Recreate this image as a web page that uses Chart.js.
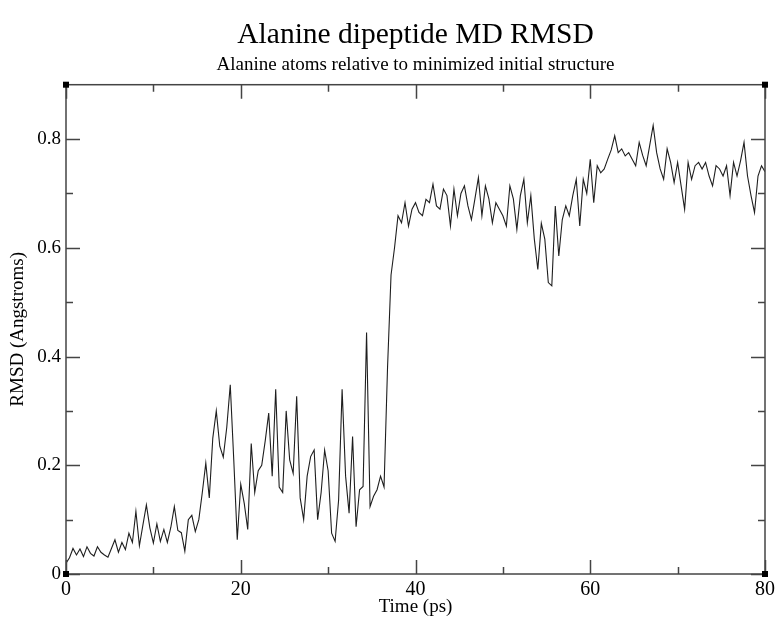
<!DOCTYPE html>
<html>
<head>
<meta charset="utf-8">
<script src="https://cdn.jsdelivr.net/npm/chart.js@4"></script>
<style>
  html, body { margin: 0; padding: 0; background: #fff; }
  #wrap { width: 775px; height: 620px; }
</style>
</head>
<body>
<div id="wrap"><canvas id="rmsd"></canvas></div>
<script>
// RMSD samples every 0.4 ps
const dt = 0.4;
const rmsd = [
    0.020, 0.030, 0.047, 0.035, 0.046, 0.032, 0.050, 0.038, 0.033, 0.050,
    0.040, 0.035, 0.031, 0.047, 0.063, 0.040, 0.058, 0.045, 0.075, 0.058,
    0.115, 0.052, 0.090, 0.127, 0.085, 0.057, 0.092, 0.060, 0.082, 0.058,
    0.086, 0.124, 0.080, 0.076, 0.042, 0.100, 0.108, 0.078, 0.100, 0.150,
    0.204, 0.140, 0.250, 0.300, 0.235, 0.215, 0.270, 0.348, 0.210, 0.063,
    0.165, 0.130, 0.082, 0.240, 0.150, 0.190, 0.200, 0.245, 0.296, 0.180,
    0.340, 0.160, 0.150, 0.300, 0.210, 0.185, 0.327, 0.140, 0.100, 0.180,
    0.216, 0.228, 0.100, 0.150, 0.228, 0.190, 0.075, 0.060, 0.136, 0.340,
    0.180, 0.112, 0.253, 0.087, 0.155, 0.161, 0.444, 0.124, 0.143, 0.155,
    0.180, 0.160, 0.380, 0.550, 0.600, 0.659, 0.646, 0.683, 0.640, 0.671,
    0.683, 0.665, 0.659, 0.689, 0.683, 0.717, 0.677, 0.671, 0.708, 0.696,
    0.640, 0.708, 0.659, 0.700, 0.714, 0.677, 0.652, 0.690, 0.729, 0.659,
    0.714, 0.690, 0.646, 0.683, 0.671, 0.659, 0.640, 0.714, 0.690, 0.634,
    0.696, 0.726, 0.646, 0.696, 0.616, 0.560, 0.645, 0.616, 0.536, 0.530,
    0.677, 0.585, 0.652, 0.677, 0.659, 0.696, 0.726, 0.640, 0.726, 0.700,
    0.763, 0.683, 0.751, 0.738, 0.745, 0.763, 0.780, 0.806, 0.775, 0.782,
    0.769, 0.775, 0.763, 0.751, 0.794, 0.770, 0.751, 0.788, 0.825, 0.775,
    0.745, 0.726, 0.782, 0.757, 0.720, 0.757, 0.714, 0.671, 0.757, 0.726,
    0.751, 0.757, 0.745, 0.757, 0.732, 0.714, 0.751, 0.745, 0.732, 0.751,
    0.696, 0.757, 0.732, 0.760, 0.794, 0.732, 0.696, 0.665, 0.732, 0.751,
    0.740
];
const timePs = rmsd.map((v, i) => +(i * dt).toFixed(1));

const xTicks = [0, 20, 40, 60, 80];
const xMinorTicks = [10, 30, 50, 70];
const yTicks = [0, 0.2, 0.4, 0.6, 0.8];
const yMinorTicks = [0.1, 0.3, 0.5, 0.7];

const serif = "'Liberation Serif', 'Times New Roman', serif";

// xmgrace style frame: inward ticks on all four sides + corner handles
const graceFrame = {
    id: 'graceFrame',
    afterDatasetsDraw(chart) {
        const { ctx, chartArea: a, scales } = chart;
        const xs = scales.x, ys = scales.y;
        ctx.save();
        ctx.strokeStyle = '#444';
        ctx.lineWidth = 1.5;
        ctx.strokeRect(a.left, a.top, a.right - a.left, a.bottom - a.top);
        ctx.beginPath();
        const tickX = (vals, len) => vals.forEach(v => {
            const px = Math.round(xs.getPixelForValue(v)) + 0.5;
            ctx.moveTo(px, a.bottom); ctx.lineTo(px, a.bottom - len);
            ctx.moveTo(px, a.top); ctx.lineTo(px, a.top + len);
        });
        const tickY = (vals, len) => vals.forEach(v => {
            const py = Math.round(ys.getPixelForValue(v)) + 0.5;
            ctx.moveTo(a.left, py); ctx.lineTo(a.left + len, py);
            ctx.moveTo(a.right, py); ctx.lineTo(a.right - len, py);
        });
        tickX(xTicks, 14); tickX(xMinorTicks, 7);
        tickY(yTicks, 14); tickY(yMinorTicks, 7);
        ctx.stroke();
        ctx.fillStyle = '#000';
        [[a.left, a.top], [a.right, a.top], [a.left, a.bottom], [a.right, a.bottom]].forEach(([cx, cy]) => {
            ctx.fillRect(cx - 3, cy - 3, 6, 6);
        });
        ctx.restore();
    }
};

const ctx0 = document.getElementById('rmsd').getContext('2d');
const chart = new Chart(ctx0, {
    type: 'line',
    data: {
        labels: timePs,
        datasets: [{
            label: 'RMSD',
            data: timePs.map((t, i) => ({ x: t, y: rmsd[i] })),
            borderColor: '#1e1e1e',
            borderWidth: 1.1,
            pointRadius: 0,
            fill: false,
            tension: 0
        }]
    },
    options: {
        responsive: true,
        maintainAspectRatio: false,
        animation: false,
        layout: { padding: { left: 0, right: 10, top: 0, bottom: 0 } },
        plugins: {
            legend: { display: false },
            tooltip: { enabled: false },
            title: {
                display: true,
                text: 'Alanine dipeptide MD RMSD',
                fullSize: false,
                color: '#000',
                font: { family: serif, size: 29.5, weight: 'normal', lineHeight: 1.2 },
                padding: { top: 18, bottom: 0 }
            },
            subtitle: {
                display: true,
                text: 'Alanine atoms relative to minimized initial structure',
                fullSize: false,
                color: '#000',
                font: { family: serif, size: 19, weight: 'normal', lineHeight: 1.2 },
                padding: { top: 0, bottom: 8.5 }
            }
        },
        scales: {
            x: {
                type: 'linear',
                min: 0,
                max: 80,
                grid: { display: false, drawTicks: false },
                border: { display: false },
                afterBuildTicks: s => { s.ticks = xTicks.map(v => ({ value: v })); },
                afterFit: s => { s.height = 46; s.paddingLeft = 0; s.paddingRight = 0; },
                ticks: {
                    color: '#000',
                    padding: 4,
                    maxRotation: 0,
                    font: { family: serif, size: 20 }
                },
                title: {
                    display: true,
                    text: 'Time (ps)',
                    color: '#000',
                    font: { family: serif, size: 19 },
                    padding: { top: 0, bottom: 2 }
                }
            },
            y: {
                min: 0,
                max: 0.9,
                grid: { display: false, drawTicks: false },
                border: { display: false },
                afterBuildTicks: s => { s.ticks = yTicks.map(v => ({ value: v })); },
                afterFit: s => { s.width = 66; s.paddingTop = 0; s.paddingBottom = 0; },
                ticks: {
                    color: '#000',
                    padding: 5,
                    font: { family: serif, size: 19 },
                    callback: v => (v === 0 ? '0' : v.toFixed(1))
                },
                title: {
                    display: true,
                    text: 'RMSD (Angstroms)',
                    color: '#000',
                    font: { family: serif, size: 19 },
                    padding: { top: 7, bottom: 0 }
                }
            }
        }
    },
    plugins: [graceFrame]
});
</script>
</body>
</html>
